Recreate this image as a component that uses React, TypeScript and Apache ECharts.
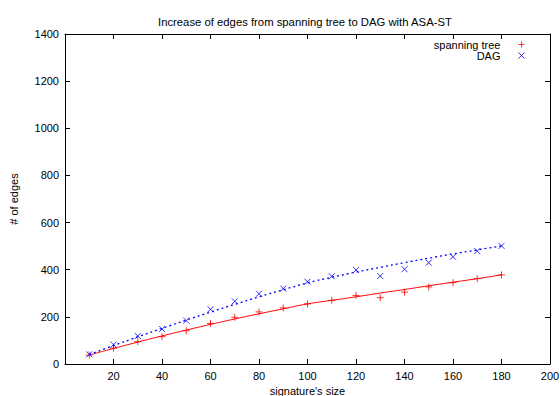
import React, { useEffect, useRef } from "react";
import * as echarts from "echarts";

const sizes = [10, 20, 30, 40, 50, 60, 70, 80, 90, 100, 110, 120, 130, 140, 150, 160, 170, 180];
const treeEdges = [38, 67, 95, 116, 141, 172, 198, 221, 238, 255, 270, 291, 281, 305, 327, 345, 362, 378];
const dagEdges = [41, 82, 119, 148, 184, 232, 266, 298, 320, 349, 372, 399, 373, 402, 430, 455, 479, 501];
const treeFit = [38, 66, 93, 119, 144, 168, 191, 213, 234, 255, 270, 285, 301, 316, 332, 347, 362, 378];
const dagFit = [40, 78, 115, 151, 186, 220, 253, 285, 315, 344, 368, 390, 410, 430, 449, 467, 484, 501];

const FONT = "Liberation Sans";
const PLUS = "path://M5,0 L5,10 M0,5 L10,5";
const CROSS = "path://M0,0 L10,10 M0,10 L10,0";

const pairs = (ys: number[]) => sizes.map((x, i) => [x, ys[i]]);

export default function App() {
  const ref = useRef<HTMLDivElement>(null);
  useEffect(() => {
    if (!ref.current) return;
    const chart = echarts.init(ref.current, null, { renderer: "svg" });
    const axisLine = () => ({ show: true, onZero: false, lineStyle: { color: "#000", width: 1 } });
    const tick = () => ({ show: true, inside: true, length: 5, lineStyle: { color: "#000", width: 1 } });
    const label = { color: "#000", fontFamily: FONT, fontSize: 11 };
    chart.setOption({
      animation: false,
      backgroundColor: "#fff",
      title: {
        text: "Increase of edges from spanning tree to DAG with ASA-ST",
        left: 153,
        top: 11,
        textStyle: { fontFamily: FONT, fontSize: 11.3, fontWeight: "normal", color: "#000" },
      },
      legend: {
        data: [
          { name: "spanning tree", icon: PLUS, itemStyle: { color: "#ff0000", borderColor: "#ff0000", borderWidth: 1 } },
          { name: "DAG", icon: CROSS, itemStyle: { color: "#0000ff", borderColor: "#0000ff", borderWidth: 1 } },
        ],
        orient: "vertical",
        right: 30,
        top: 34,
        align: "right",
        itemWidth: 6,
        itemHeight: 6,
        itemGap: 0,
        textStyle: { fontFamily: FONT, fontSize: 11, lineHeight: 11, color: "#000", padding: [0, 13, 0, 0] },
      },
      grid: { left: 65, right: 10, top: 34, bottom: 32, outerBoundsMode: "none", containLabel: false },
      xAxis: [
        {
          type: "value",
          position: "bottom",
          min: 0,
          max: 200,
          interval: 20,
          name: "signature's size",
          nameLocation: "middle",
          nameGap: 21,
          nameTextStyle: label,
          axisLine: axisLine(),
          axisTick: tick(),
          axisLabel: { ...label, margin: 6, formatter: (v: number) => (v === 0 ? "" : String(v)) },
          splitLine: { show: false },
        },
        {
          type: "value",
          position: "top",
          min: 0,
          max: 200,
          interval: 20,
          axisLine: axisLine(),
          axisTick: tick(),
          axisLabel: { show: false },
          splitLine: { show: false },
        },
      ],
      yAxis: [
        {
          type: "value",
          position: "left",
          min: 0,
          max: 1400,
          interval: 200,
          name: "# of edges",
          nameLocation: "middle",
          nameGap: 46,
          nameTextStyle: label,
          axisLine: axisLine(),
          axisTick: tick(),
          axisLabel: { ...label, margin: 6, formatter: (v: number) => String(v) },
          splitLine: { show: false },
        },
        {
          type: "value",
          position: "right",
          min: 0,
          max: 1400,
          interval: 200,
          axisLine: axisLine(),
          axisTick: tick(),
          axisLabel: { show: false },
          splitLine: { show: false },
        },
      ],
      series: [
        {
          name: "treeFit",
          type: "line",
          data: pairs(treeFit),
          smooth: true,
          showSymbol: false,
          symbol: "none",
          lineStyle: { color: "#ff0000", width: 1 },
          silent: true,
        },
        {
          name: "dagFit",
          type: "line",
          data: pairs(dagFit),
          smooth: true,
          showSymbol: false,
          symbol: "none",
          lineStyle: { color: "#0000ff", width: 1.3, type: [2, 3] },
          silent: true,
        },
        {
          name: "spanning tree",
          type: "scatter",
          data: pairs(treeEdges),
          symbol: PLUS,
          symbolSize: 7,
          itemStyle: { color: "#ff0000", borderColor: "#ff0000", borderWidth: 1 },
        },
        {
          name: "DAG",
          type: "scatter",
          data: pairs(dagEdges),
          symbol: CROSS,
          symbolSize: 6,
          itemStyle: { color: "#0000ff", borderColor: "#0000ff", borderWidth: 1 },
        },
      ],
    });
    return () => chart.dispose();
  }, []);
  return <div ref={ref} style={{ width: 560, height: 396, position: "absolute", left: 0, top: 0 }} />;
}
